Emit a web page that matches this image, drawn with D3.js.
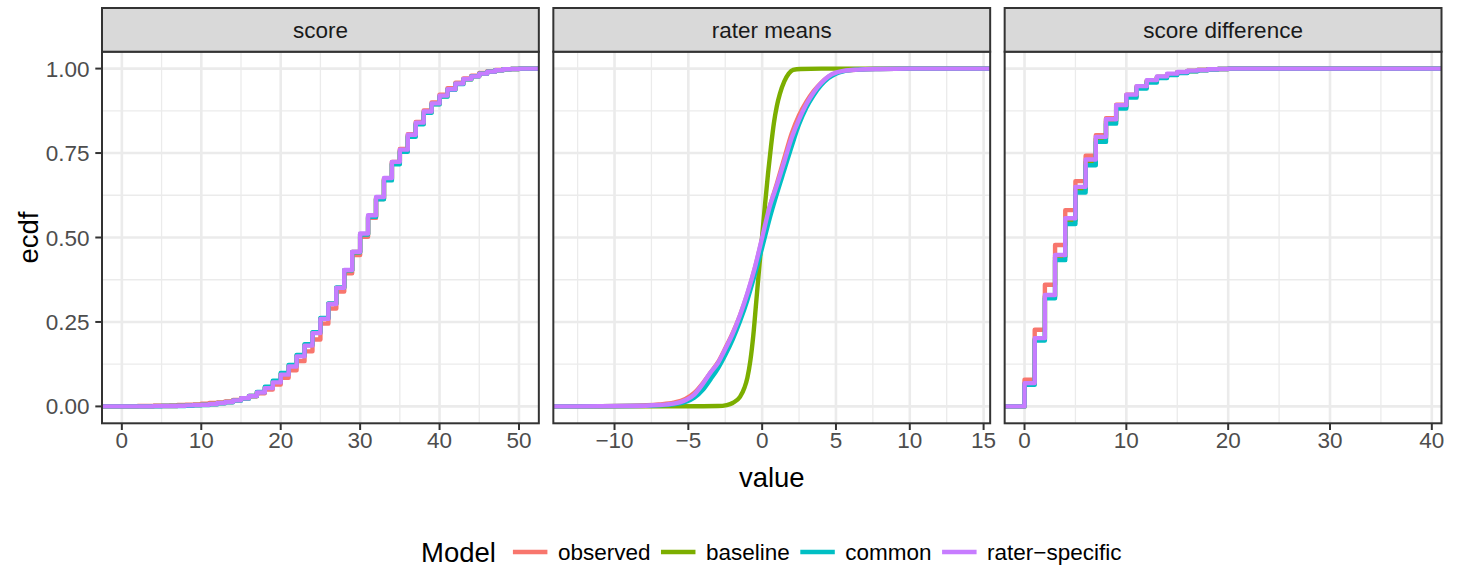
<!DOCTYPE html>
<meta charset="utf-8">
<style>
body { margin: 0; background: #fff; }
svg text { font-family: "Liberation Sans", Arial, Helvetica, sans-serif; }
.tick-label { font-size: 22.5px; fill: #4D4D4D; }
.strip-label { font-size: 22.5px; fill: #1A1A1A; }
.title { font-size: 27.5px; fill: #000; }
.legend-label { font-size: 22.5px; fill: #000; }
</style>
<body>
<div id="chart"></div>
<script src="https://cdn.jsdelivr.net/npm/d3@7"></script>
<script>
var models = ["observed", "baseline", "common", "rater−specific"];
var modelColors = ["#F8766D", "#7CAE00", "#00BFC4", "#C77CFF"];
var facets = ["score", "rater means", "score difference"];

// score panel (steps at integer scores)
var scoreX = [0,1,2,3,4,5,6,7,8,9,10,11,12,13,14,15,16,17,18,19,20,21,22,23,24,25,26,27,28,29,30,31,32,33,34,35,36,37,38,39,40,41,42,43,44,45,46,47,48,49,50];
var scoreObserved = [0,0,0.001,0.001,0.002,0.002,0.003,0.004,0.005,0.006, 0.008,0.010,0.012,0.015,0.019,0.024,0.030,0.039,0.050,0.065, 0.085,0.107,0.134,0.163,0.198,0.245,0.290,0.340,0.394,0.448, 0.502,0.558,0.614,0.674,0.724,0.762,0.806,0.842,0.876,0.900, 0.923,0.942,0.958,0.971,0.979,0.987,0.992,0.996,0.998,0.999,1];
var scoreBaseline = [0,0,0,0,0.001,0.001,0.001,0.002,0.003,0.004, 0.005,0.007,0.010,0.013,0.018,0.024,0.031,0.042,0.056,0.073, 0.096,0.120,0.150,0.182,0.218,0.260,0.304,0.351,0.403,0.457, 0.510,0.563,0.616,0.672,0.720,0.757,0.801,0.837,0.871,0.895, 0.918,0.938,0.955,0.968,0.977,0.985,0.991,0.995,0.998,0.999,1];
var scoreCommon = [0,0,0,0,0,0.001,0.001,0.001,0.002,0.003, 0.004,0.006,0.009,0.012,0.017,0.023,0.031,0.043,0.058,0.076, 0.099,0.123,0.152,0.184,0.220,0.262,0.305,0.352,0.403,0.456, 0.509,0.561,0.613,0.669,0.717,0.754,0.798,0.835,0.869,0.894, 0.917,0.937,0.954,0.968,0.977,0.985,0.991,0.995,0.998,0.999,1];
var scoreRater = [0,0,0,0,0.001,0.001,0.001,0.002,0.003,0.004, 0.005,0.007,0.010,0.013,0.018,0.024,0.031,0.041,0.054,0.071, 0.094,0.118,0.148,0.180,0.217,0.259,0.303,0.351,0.404,0.458, 0.512,0.566,0.620,0.676,0.724,0.760,0.804,0.840,0.873,0.897, 0.920,0.939,0.956,0.969,0.977,0.985,0.991,0.995,0.998,0.999,1];

// rater means panel
var rmX = [-12.8,-9,-7,-6,-5.2,-4.6,-4,-3.5,-3,-2.5,-2,-1.5,-1,-0.5,0,0.5,1,1.5,2,2.5,3,3.5,4,4.5,5,5.5,6.5,8,10,14.1];
var rmObserved = [0,0.002,0.006,0.011,0.022,0.040,0.070,0.100,0.130,0.172,0.217,0.270,0.333,0.408,0.497,0.588,0.660,0.735,0.808,0.862,0.902,0.934,0.958,0.976,0.987,0.993,0.997,0.999,1,1];
var rmCommon = [0,0.001,0.003,0.006,0.013,0.026,0.050,0.080,0.112,0.152,0.198,0.252,0.315,0.390,0.470,0.555,0.630,0.700,0.770,0.835,0.885,0.922,0.951,0.972,0.985,0.992,0.997,0.999,1,1];
var rmRater = [0,0.001,0.004,0.008,0.018,0.035,0.068,0.100,0.128,0.170,0.215,0.270,0.335,0.410,0.500,0.590,0.655,0.725,0.795,0.850,0.895,0.930,0.957,0.977,0.988,0.993,0.997,0.999,1,1];
var rmBaseX = [-12.8,-4,-3,-2.4,-2,-1.5,-1.2,-1,-0.8,-0.6,-0.4,-0.2,0,0.2,0.4,0.6,0.8,1,1.2,1.5,1.8,2.1,2.6,4,14.1];
var rmBaseline = [0,0.0005,0.001,0.004,0.01,0.028,0.055,0.085,0.135,0.21,0.31,0.41,0.505,0.6,0.69,0.77,0.84,0.89,0.925,0.962,0.985,0.996,0.999,1,1];

// score difference panel
var diffX = [0,1,2,3,4,5,6,7,8,9,10,11,12,13,14,15,16,17,18,19,20,39];
var diffObserved = [0.079,0.227,0.360,0.478,0.581,0.667,0.742,0.803,0.853,0.893,0.923,0.947,0.964,0.975,0.983,0.989,0.993,0.996,0.998,0.999,1,1];
var diffBaseline = [0.067,0.199,0.326,0.442,0.550,0.643,0.724,0.792,0.845,0.888,0.919,0.945,0.963,0.975,0.983,0.989,0.993,0.996,0.998,0.999,1,1];
var diffCommon = [0.064,0.195,0.320,0.433,0.540,0.633,0.714,0.783,0.837,0.882,0.914,0.941,0.959,0.972,0.981,0.987,0.992,0.995,0.997,0.999,1,1];
var diffRater = [0.069,0.202,0.330,0.448,0.557,0.650,0.731,0.798,0.850,0.892,0.923,0.948,0.966,0.977,0.985,0.990,0.994,0.996,0.998,0.999,1,1];

var yTicks = [0, 0.25, 0.5, 0.75, 1];
var yTickLabels = ["0.00", "0.25", "0.50", "0.75", "1.00"];
var yMinor = [0.125, 0.375, 0.625, 0.875];
var xTicks = [[0,10,20,30,40,50], [-10,-5,0,5,10,15], [0,10,20,30,40]];
var xMinor = [[5,15,25,35,45], [-12.5,-7.5,-2.5,2.5,7.5,12.5], [5,15,25,35]];

var panels = [
  {step: true, series: [[scoreX, scoreObserved], [scoreX, scoreBaseline], [scoreX, scoreCommon], [scoreX, scoreRater]]},
  {step: false, series: [[rmX, rmObserved], [rmBaseX, rmBaseline], [rmX, rmCommon], [rmX, rmRater]]},
  {step: true, series: [[diffX, diffObserved], [diffX, diffBaseline], [diffX, diffCommon], [diffX, diffRater]]}
];

var W = 1460, H = 567,
    plotLeft = 102, plotRight = 1441.5, gap = 14.5,
    stripTop = 8, stripBottom = 51.7, panelBottom = 423.3,
    panelW = (plotRight - plotLeft - 2 * gap) / 3;

var svg = d3.select("#chart").append("svg")
    .attr("width", W).attr("height", H);

var y = d3.scaleLinear().domain([-0.05, 1.05]).range([panelBottom, stripBottom]);

function fmt(v) { return v < 0 ? "\u2212" + Math.abs(v) : String(v); }

panels.forEach(function(p, i) {
  var x0 = plotLeft + i * (panelW + gap);
  var allX = d3.merge(p.series.map(function(s) { return s[0]; }));
  var ext = d3.extent(allX), pad = (ext[1] - ext[0]) * 0.05;
  var x = d3.scaleLinear().domain([ext[0] - pad, ext[1] + pad]).range([x0, x0 + panelW]);
  var g = svg.append("g");

  g.append("clipPath").attr("id", "clip" + i)
    .append("rect").attr("x", x0).attr("y", stripBottom).attr("width", panelW).attr("height", panelBottom - stripBottom);

  // grid
  g.selectAll(".ymin").data(yMinor).enter().append("line")
    .attr("x1", x0).attr("x2", x0 + panelW).attr("y1", y).attr("y2", y)
    .attr("stroke", "#EBEBEB").attr("stroke-width", 1.3);
  g.selectAll(".xmin").data(xMinor[i]).enter().append("line")
    .attr("x1", x).attr("x2", x).attr("y1", stripBottom).attr("y2", panelBottom)
    .attr("stroke", "#EBEBEB").attr("stroke-width", 1.3);
  g.selectAll(".ymaj").data(yTicks).enter().append("line")
    .attr("x1", x0).attr("x2", x0 + panelW).attr("y1", y).attr("y2", y)
    .attr("stroke", "#EBEBEB").attr("stroke-width", 2.6);
  g.selectAll(".xmaj").data(xTicks[i]).enter().append("line")
    .attr("x1", x).attr("x2", x).attr("y1", stripBottom).attr("y2", panelBottom)
    .attr("stroke", "#EBEBEB").attr("stroke-width", 2.6);

  // ecdf lines
  var line = d3.line().x(function(d) { return x(d[0]); }).y(function(d) { return y(d[1]); })
    .curve(p.step ? d3.curveStepAfter : d3.curveMonotoneX);
  var dom = x.domain();
  p.series.forEach(function(s, k) {
    var pts = s[0].map(function(v, j) { return [v, s[1][j]]; });
    pts.unshift([dom[0], 0]);
    pts.push([dom[1], s[1][s[1].length - 1]]);
    g.append("path").datum(pts)
      .attr("clip-path", "url(#clip" + i + ")")
      .attr("d", line).attr("fill", "none")
      .attr("stroke", modelColors[k]).attr("stroke-width", 4.4)
      .attr("stroke-linejoin", "round");
  });

  // border + strip
  g.append("rect").attr("x", x0).attr("y", stripBottom).attr("width", panelW).attr("height", panelBottom - stripBottom)
    .attr("fill", "none").attr("stroke", "#333333").attr("stroke-width", 2);
  g.append("rect").attr("x", x0).attr("y", stripTop).attr("width", panelW).attr("height", stripBottom - stripTop)
    .attr("fill", "#D9D9D9").attr("stroke", "#333333").attr("stroke-width", 2);
  g.append("text").attr("class", "strip-label")
    .attr("x", x0 + panelW / 2).attr("y", (stripTop + stripBottom) / 2 + 8)
    .attr("text-anchor", "middle").text(facets[i]);

  // x axis
  var xa = g.selectAll(".xt").data(xTicks[i]).enter();
  xa.append("line").attr("x1", x).attr("x2", x).attr("y1", panelBottom).attr("y2", panelBottom + 6.7)
    .attr("stroke", "#333333").attr("stroke-width", 2);
  xa.append("text").attr("class", "tick-label").attr("x", x).attr("y", panelBottom + 24.5)
    .attr("text-anchor", "middle").text(fmt);

  if (i === 0) {
    var ya = g.selectAll(".yt").data(yTicks).enter();
    ya.append("line").attr("x1", x0 - 6.7).attr("x2", x0).attr("y1", y).attr("y2", y)
      .attr("stroke", "#333333").attr("stroke-width", 2);
    ya.append("text").attr("class", "tick-label").attr("x", x0 - 12.5).attr("y", function(d) { return y(d) + 8; })
      .attr("text-anchor", "end").text(function(d, j) { return yTickLabels[j]; });
  }
});

// axis titles
svg.append("text").attr("class", "title").attr("x", (plotLeft + plotRight) / 2).attr("y", 487)
  .attr("text-anchor", "middle").text("value");
svg.append("text").attr("class", "title").attr("transform", "translate(38," + (stripBottom + panelBottom) / 2 + ") rotate(-90)")
  .attr("text-anchor", "middle").text("ecdf");

// legend
var legY = 552, cx = 421;
var lg = svg.append("g");
var tTitle = lg.append("text").attr("class", "title").attr("x", cx).attr("y", legY + 9.8).text("Model");
cx += tTitle.node().getComputedTextLength() + 17;
models.forEach(function(m, k) {
  lg.append("line").attr("x1", cx).attr("x2", cx + 34.5).attr("y1", legY).attr("y2", legY)
    .attr("stroke", modelColors[k]).attr("stroke-width", 4.4);
  cx += 34.5 + 10.5;
  var t = lg.append("text").attr("class", "legend-label").attr("x", cx).attr("y", legY + 8).text(m);
  cx += t.node().getComputedTextLength() + 10.5;
});
</script>
</body>
